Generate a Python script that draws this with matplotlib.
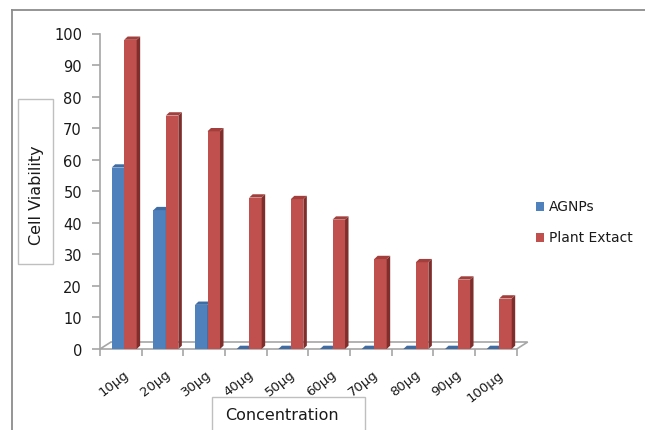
import matplotlib
matplotlib.use("Agg")
import matplotlib.pyplot as plt
from matplotlib.patches import Polygon, Rectangle
from matplotlib.transforms import offset_copy

categories = ["10μg", "20μg", "30μg", "40μg", "50μg", "60μg", "70μg", "80μg", "90μg", "100μg"]
agnps = [57.5, 44, 14, 0, 0, 0, 0, 0, 0, 0]
plant_extract = [98, 74, 69, 48, 47.5, 41, 28.5, 27.5, 22, 16]
series_names = ["AGNPs", "Plant Extact"]
y_ticks = [0, 10, 20, 30, 40, 50, 60, 70, 80, 90, 100]

W, H = 645, 431
fig = plt.figure(figsize=(W / 100, H / 100), dpi=100)
fig.patch.set_facecolor("white")

# axes: x 0..10 -> px 100..516.7 ; y 0..100 -> px 350..34.5
px_left, px_right, px_bottom, px_top = 100, 516.7, 350, 34.5
ax = fig.add_axes([px_left / W, (H - px_bottom) / H,
                   (px_right - px_left) / W, (px_bottom - px_top) / H])
n = len(categories)
ax.set_xlim(0, n)
ax.set_ylim(0, 100)
for s in ["top", "right", "bottom"]:
    ax.spines[s].set_visible(False)
ax.spines["left"].set_color("#A6A6A6")
ax.spines["left"].set_linewidth(1.2)

px_per_x = (px_right - px_left) / n
px_per_y = (px_bottom - px_top) / 100.0

# floor
fdx, fdy = 11 / px_per_x, 7 / px_per_y
floor = Polygon([(0, 0), (n, 0), (n + fdx, fdy), (fdx, fdy)], closed=True,
                facecolor="white", edgecolor="#A6A6A6", lw=1.2, clip_on=False, zorder=1)
ax.add_patch(floor)

# bars 3D
bw = 0.30
bdx, bdy = 3.5 / px_per_x, 3.3 / px_per_y
styles = [
    dict(front="#4F81BD", side="#385D8A", top="#3F6CA3", off=0.28),
    dict(front="#C0504D", side="#7F2E2C", top="#A23F3C", off=0.58),
]
for si, vals in enumerate([agnps, plant_extract]):
    st = styles[si]
    xs = [i + st["off"] for i in range(n)]
    z = 3 + si
    ax.bar(xs, vals, width=bw, align="edge", color=st["front"], lw=0, zorder=z, clip_on=False)
    for x, v in zip(xs, vals):
        side = Polygon([(x + bw, 0), (x + bw + bdx, bdy), (x + bw + bdx, v + bdy), (x + bw, v)],
                       closed=True, facecolor=st["side"], lw=0, zorder=z, clip_on=False)
        top = Polygon([(x, v), (x + bw, v), (x + bw + bdx, v + bdy), (x + bdx, v + bdy)],
                      closed=True, facecolor=st["top"], lw=0, zorder=z, clip_on=False)
        ax.add_patch(side)
        ax.add_patch(top)

# y ticks
ax.set_yticks(y_ticks)
ax.tick_params(axis="y", direction="out", length=6, width=1.2, color="#A6A6A6",
               pad=7, labelsize=10.5, labelcolor="#1a1a1a")

# x ticks: boundaries as minor ticks, labels manual
ax.set_xticks(range(n + 1), minor=True)
ax.set_xticks([])
ax.tick_params(axis="x", which="minor", direction="out", length=5, width=1.2, color="#A6A6A6")
xtr = offset_copy(ax.get_xaxis_transform(), fig=fig, x=6, y=-23.5, units="dots")
for i, lab in enumerate(categories):
    ax.text(i + 0.5, 0, lab, transform=xtr, rotation=38, rotation_mode="anchor",
            ha="right", va="center", fontsize=9.5, color="#1a1a1a")

# outer border (left and top lines)
fig.add_artist(plt.Line2D([12 / W, 12 / W], [0, 1 - 10.5 / H], transform=fig.transFigure,
                          color="#8C8C8C", lw=1.3))
fig.add_artist(plt.Line2D([12 / W, 1], [1 - 10.5 / H, 1 - 10.5 / H], transform=fig.transFigure,
                          color="#8C8C8C", lw=1.3))

# title boxes
def fig_rect(x0, y0, x1, y1):
    return Rectangle((x0 / W, 1 - y1 / H), (x1 - x0) / W, (y1 - y0) / H,
                     transform=fig.transFigure, facecolor="white", edgecolor="#BFBFBF",
                     lw=1.0, zorder=-1)

fig.add_artist(fig_rect(18.3, 100, 53.3, 265))
fig.text(36 / W, 1 - 195.5 / H, "Cell Viability", rotation=90, ha="center", va="center",
         fontsize=11.5, color="#1a1a1a")
fig.add_artist(fig_rect(211.7, 398, 365, 432))
fig.text(281.5 / W, 1 - 416 / H, "Concentration", ha="center", va="center",
         fontsize=11.5, color="#1a1a1a")

# legend
leg_y = [207.5, 238.5]
leg_cols = [styles[0]["front"], styles[1]["front"]]
for name, yy, c in zip(series_names, leg_y, leg_cols):
    fig.add_artist(Rectangle((536 / W, 1 - (yy + 4.5) / H), 8 / W, 9 / H,
                             transform=fig.transFigure, facecolor=c, lw=0))
    fig.text(549 / W, 1 - yy / H, name, ha="left", va="center", fontsize=10, color="#1a1a1a")

fig.savefig("out.png", dpi=100, facecolor="white")
